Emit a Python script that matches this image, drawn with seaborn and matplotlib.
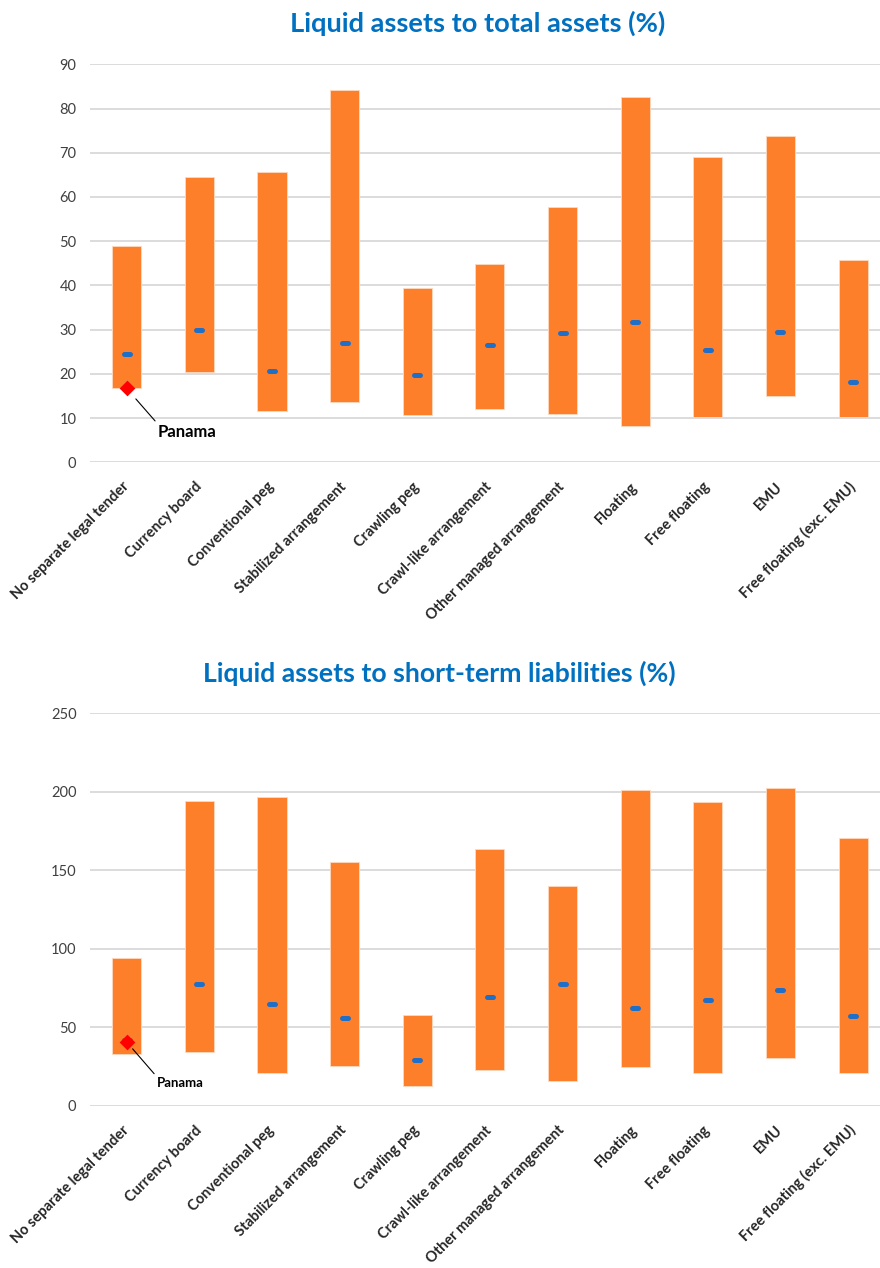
import numpy as np
import pandas as pd
import matplotlib
matplotlib.use("Agg")
import matplotlib.pyplot as plt
from matplotlib.markers import MarkerStyle
import seaborn as sns

# exchange rate regimes
categories = ["No separate legal tender", "Currency board", "Conventional peg",
              "Stabilized arrangement", "Crawling peg", "Crawl-like arrangement",
              "Other managed arrangement", "Floating", "Free floating", "EMU",
              "Free floating (exc. EMU)"]

# liquid assets to total assets (%)
ta_low = [16.9, 20.4, 11.6, 13.6, 10.7, 12.0, 10.9, 8.3, 10.2, 15.1, 10.2]
ta_high = [48.8, 64.5, 65.6, 84.1, 39.4, 44.9, 57.8, 82.5, 69.0, 73.8, 45.7]
ta_median = [24.5, 29.9, 20.6, 26.9, 19.8, 26.5, 29.3, 31.7, 25.3, 29.5, 18.2]
ta_panama = 16.7

# liquid assets to short-term liabilities (%)
stl_low = [32.9, 34.2, 21.2, 25.5, 12.5, 23.1, 16.1, 24.8, 21.2, 30.4, 21.2]
stl_high = [94.4, 194.1, 196.5, 155.5, 57.7, 163.4, 140.2, 201.3, 193.5, 202.6, 170.4]
stl_median = [42.0, 77.5, 64.7, 56.0, 29.1, 69.4, 77.7, 62.2, 67.7, 73.8, 57.1]
stl_panama = 40.7

panama_cat = "No separate legal tender"

ORANGE = "#FE7F2A"
BLUE = "#1F6FC8"
RED = "#FF0000"
GRID = "#D9D9D9"
TXT = "#404040"

sns.set_theme(style="white")
plt.rcParams["font.family"] = ["Lato", "DejaVu Sans"]


def draw_panel(ax, low, high, median, panama, ymax, step, panama_fs, offset, shrink):
    df = pd.DataFrame({"regime": categories, "low": low, "high": high, "median": median})
    df["span"] = df["high"] - df["low"]

    sns.barplot(data=df, x="regime", y="span", bottom=df["low"].values, order=categories,
                color=ORANGE, saturation=1, width=0.4, errorbar=None,
                edgecolor="#FFD9C0", linewidth=0.6, ax=ax)

    # median: short rounded blue dash
    n = len(ax.collections)
    sns.stripplot(data=df, x="regime", y="median", order=categories, jitter=False,
                  marker=MarkerStyle("_", capstyle="round"), size=4, linewidth=3.6,
                  color=BLUE, edgecolor=BLUE, ax=ax, zorder=3)
    for c in ax.collections[n:]:
        c.set_capstyle("round")

    pan = pd.DataFrame({"regime": [panama_cat], "value": [panama]})
    sns.stripplot(data=pan, x="regime", y="value", order=categories, jitter=False,
                  marker="D", size=8, color=RED, linewidth=0, ax=ax, zorder=4)

    xi = categories.index(panama_cat)
    ax.annotate("Panama", xy=(xi, panama), xytext=offset, textcoords="offset points",
                fontsize=panama_fs, fontweight="bold", color="black", ha="left", va="center",
                arrowprops=dict(arrowstyle="-", color="black", lw=0.8, shrinkA=0,
                                shrinkB=shrink, relpos=(0, 1)))

    ax.set_ylim(0, ymax)
    ax.set_yticks(np.arange(0, ymax + 1, step))
    ax.set_xlim(-0.5, len(categories) - 0.5)
    ax.set_axisbelow(True)
    ax.yaxis.grid(True, color=GRID, lw=1.3)
    ax.xaxis.grid(False)
    for s in ax.spines.values():
        s.set_visible(False)
    ax.set_xlabel("")
    ax.set_ylabel("")
    ax.tick_params(axis="y", length=0, pad=10, labelsize=10.5, labelcolor=TXT)
    ax.tick_params(axis="x", length=0, pad=16)
    ax.set_xticks(range(len(categories)))
    ax.set_xticklabels(categories, rotation=45, ha="right", va="center",
                       rotation_mode="anchor", fontsize=10.5, fontweight="bold", color="#262626")


fig = plt.figure(figsize=(8.8, 12.68), dpi=100)
ax1 = fig.add_axes([0.1027, 0.6354, 0.908, 0.3139])
ax2 = fig.add_axes([0.1027, 0.1278, 0.908, 0.3097])

draw_panel(ax1, ta_low, ta_high, ta_median, ta_panama, 90, 10, 12, (22.5, -31.5), 10)
draw_panel(ax2, stl_low, stl_high, stl_median, stl_panama, 250, 50, 9.5, (21.8, -29.5), 6.5)

fig.text(478 / 880, 1 - 23 / 1268, "Liquid assets to total assets (%)", ha="center", va="center",
         fontsize=19.6, fontweight="bold", color="#0070C0")
fig.text(439 / 880, 1 - 673 / 1268, "Liquid assets to short-term liabilities (%)", ha="center",
         va="center", fontsize=19.2, fontweight="bold", color="#0070C0")

fig.savefig("out.png", dpi=100)
